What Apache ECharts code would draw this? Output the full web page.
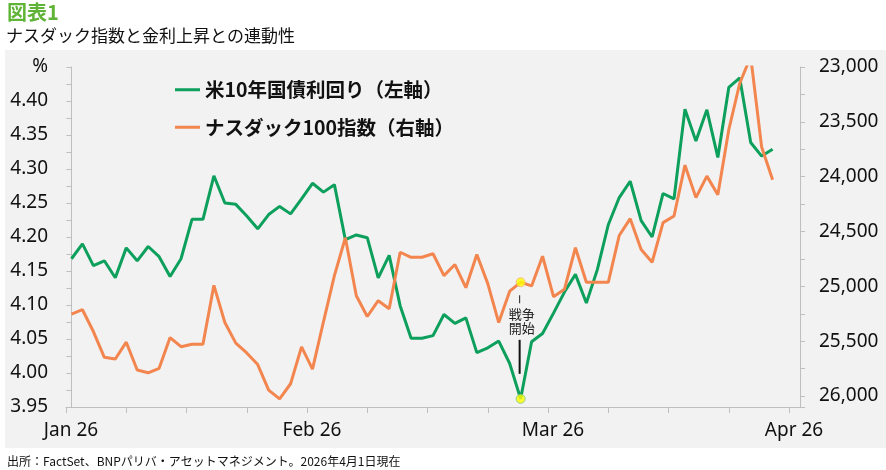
<!DOCTYPE html>
<html>
<head>
<meta charset="utf-8">
<script src="https://cdn.jsdelivr.net/npm/echarts@6/dist/echarts.min.js"></script>
<style>
html,body{margin:0;padding:0;background:#fff;}
#c{width:886px;height:470px;}
</style>
</head>
<body>
<div id="c"></div>
<script>
// ---- data ----
const tickLabels = ['Jan 26', 'Feb 26', 'Mar 26', 'Apr 26'];
const yield10y = [4.168,4.190,4.158,4.165,4.140,4.184,4.165,4.186,4.171,4.142,
  4.168,4.226,4.226,4.290,4.250,4.248,4.231,4.212,4.233,4.245,
  4.234,4.256,4.279,4.266,4.277,4.196,4.203,4.199,4.140,4.173,
  4.099,4.051,4.051,4.055,4.086,4.073,4.081,4.030,4.037,4.047,
  4.014,3.962,4.046,4.058,4.088,4.119,4.145,4.103,4.152,4.218,
  4.258,4.282,4.224,4.200,4.264,4.256,4.388,4.341,4.387,4.317,
  4.420,4.434,4.339,4.319,4.329];
const nasdaq100 = [25253,25213,25412,25647,25662,25509,25763,25788,25747,25467,
  25550,25528,25528,24991,25330,25518,25607,25713,25946,26026,
  25888,25552,25754,25323,24902,24557,25085,25275,25131,25204,
  24689,24735,24735,24703,24902,24801,25012,24710,24975,25330,
  25044,24963,24996,24725,25094,25026,24648,24963,24963,24963,
  24536,24383,24664,24780,24419,24359,23895,24191,23995,24165,
  23572,23148,22906,23730,24028];
const eventIndex = 41;
const seriesNames = ['米10年国債利回り（左軸）', 'ナスダック100指数（右軸）'];

// ---- layout helpers (axis positions in index units) ----
const xMin = -0.5, xMax = 66.5, xStep = 5.5;
const tickPos = [];
for (let k = 0; k <= 12; k++) tickPos.push(xMin + xStep * k);
const labelPos = [tickPos[0], tickPos[4], tickPos[8], tickPos[12]];

const GREEN = '#0d9f5c';
const ORANGE = '#f3854f';
const AXIS = '#bfbfbf';
const NUMFONT = 'Noto Sans';
const JPFONT = 'Noto Sans CJK JP';

const chart = echarts.init(document.getElementById('c'), null, {renderer: 'canvas'});

const option = {
  animation: false,
  backgroundColor: '#ffffff',
  grid: {left: 66, right: 86, top: 67, bottom: 63, containLabel: false},
  legend: {
    data: [
      {name: seriesNames[0], icon: 'rect', itemStyle: {color: GREEN}},
      {name: seriesNames[1], icon: 'rect', itemStyle: {color: ORANGE}}
    ],
    orient: 'vertical',
    left: 170, top: 75,
    itemGap: 18,
    itemWidth: 25, itemHeight: 3,
    textStyle: {fontFamily: JPFONT, fontSize: 19.5, fontWeight: 'bold', color: '#111'}
  },
  xAxis: {
    type: 'value', min: xMin, max: xMax, interval: xStep,
    axisLine: {show: true, onZero: false, lineStyle: {color: AXIS, width: 1}},
    axisTick: {show: true, customValues: tickPos, length: 6, lineStyle: {color: AXIS}},
    axisLabel: {
      customValues: labelPos,
      margin: 14,
      fontFamily: NUMFONT, fontSize: 19, color: '#111',
      padding: [0, 0, 0, 10],
      formatter: function (v) {
        for (let i = 0; i < labelPos.length; i++) {
          if (Math.abs(v - labelPos[i]) < 1e-6) return tickLabels[i];
        }
        return '';
      }
    },
    splitLine: {show: false}
  },
  yAxis: [
    {
      type: 'value', position: 'left', min: 3.95, max: 4.45, interval: 0.05,
      axisLine: {show: true, lineStyle: {color: AXIS}},
      axisTick: {show: true, length: 5, lineStyle: {color: AXIS}},
      minorTick: {show: true, splitNumber: 2, length: 5, lineStyle: {color: AXIS}},
      splitLine: {show: false},
      axisLabel: {
        margin: 18, fontFamily: NUMFONT, fontSize: 19, color: '#111',
        formatter: function (v) { return Math.abs(v - 4.45) < 1e-6 ? '%' : v.toFixed(2); }
      }
    },
    {
      type: 'value', position: 'right', min: 23000, max: 26100, interval: 500, inverse: true,
      axisLine: {show: true, lineStyle: {color: AXIS}},
      axisTick: {show: true, length: 5, lineStyle: {color: AXIS}},
      minorTick: {show: true, splitNumber: 2, length: 5, lineStyle: {color: AXIS}},
      splitLine: {show: false},
      axisLabel: {
        margin: 19, fontFamily: NUMFONT, fontSize: 19, color: '#111',
        showMaxLabel: false,
        formatter: function (v) { return (Math.round(v) % 500 === 0) ? v.toLocaleString('en-US') : ''; }
      }
    }
  ],
  graphic: [
    {type: 'rect', z: -100, silent: true, shape: {x: 5, y: 50, width: 881, height: 398}, style: {fill: '#f2f2f2'}},
    {type: 'text', left: 7, top: 2, style: {text: '図表1', fill: '#5fb336', font: 'bold 20px "Noto Sans CJK JP"'}},
    {type: 'text', left: 6, top: 27, style: {text: 'ナスダック指数と金利上昇との連動性', fill: '#111', font: '17px "Noto Sans CJK JP"'}},
    {type: 'text', left: 7, top: 455, style: {text: '出所：FactSet、BNPパリバ・アセットマネジメント。2026年4月1日現在', fill: '#111', font: '12px "Noto Sans CJK JP"'}}
  ],
  series: [
    {
      name: seriesNames[0], type: 'line', yAxisIndex: 0, symbol: 'none', z: 3,
      lineStyle: {color: GREEN, width: 3}, itemStyle: {color: GREEN},
      data: yield10y.map((v, i) => [i, v])
    },
    {
      name: seriesNames[1], type: 'line', yAxisIndex: 1, symbol: 'none', z: 4,
      lineStyle: {color: ORANGE, width: 3}, itemStyle: {color: ORANGE},
      data: nasdaq100.map((v, i) => [i, v])
    },
    {
      name: 'event1', type: 'scatter', yAxisIndex: 0, symbol: 'circle', symbolSize: 9, z: 6,
      itemStyle: {color: '#ffff00', borderColor: '#7cc47a', borderWidth: 1},
      data: [[eventIndex, yield10y[eventIndex]]]
    },
    {
      name: 'event2', type: 'scatter', yAxisIndex: 1, symbol: 'circle', symbolSize: 9, z: 6,
      itemStyle: {color: '#ffff00', borderColor: '#f6b07a', borderWidth: 1},
      data: [[eventIndex, nasdaq100[eventIndex]]]
    }
  ]
};
chart.setOption(option);

// annotation positioned from the event data points
const pG = chart.convertToPixel({xAxisIndex: 0, yAxisIndex: 0}, [eventIndex, yield10y[eventIndex]]);
const pO = chart.convertToPixel({xAxisIndex: 0, yAxisIndex: 1}, [eventIndex, nasdaq100[eventIndex]]);
const ax = pG[0] - 1;
chart.setOption({
  graphic: option.graphic.concat([
    {type: 'line', z: 5, shape: {x1: ax, y1: pO[1] + 13, x2: ax, y2: pO[1] + 21}, style: {stroke: '#222', lineWidth: 1}},
    {type: 'text', z: 5, x: ax + 2, y: pO[1] + 32, style: {text: '戦争', fill: '#222', font: '13px "Noto Sans CJK JP"', align: 'center', verticalAlign: 'middle'}},
    {type: 'text', z: 5, x: ax + 2, y: pO[1] + 46, style: {text: '開始', fill: '#222', font: '13px "Noto Sans CJK JP"', align: 'center', verticalAlign: 'middle'}},
    {type: 'line', z: 5, shape: {x1: ax, y1: pG[1] - 59, x2: ax, y2: pG[1] - 25}, style: {stroke: '#111', lineWidth: 2}}
  ])
});
</script>
</body>
</html>
